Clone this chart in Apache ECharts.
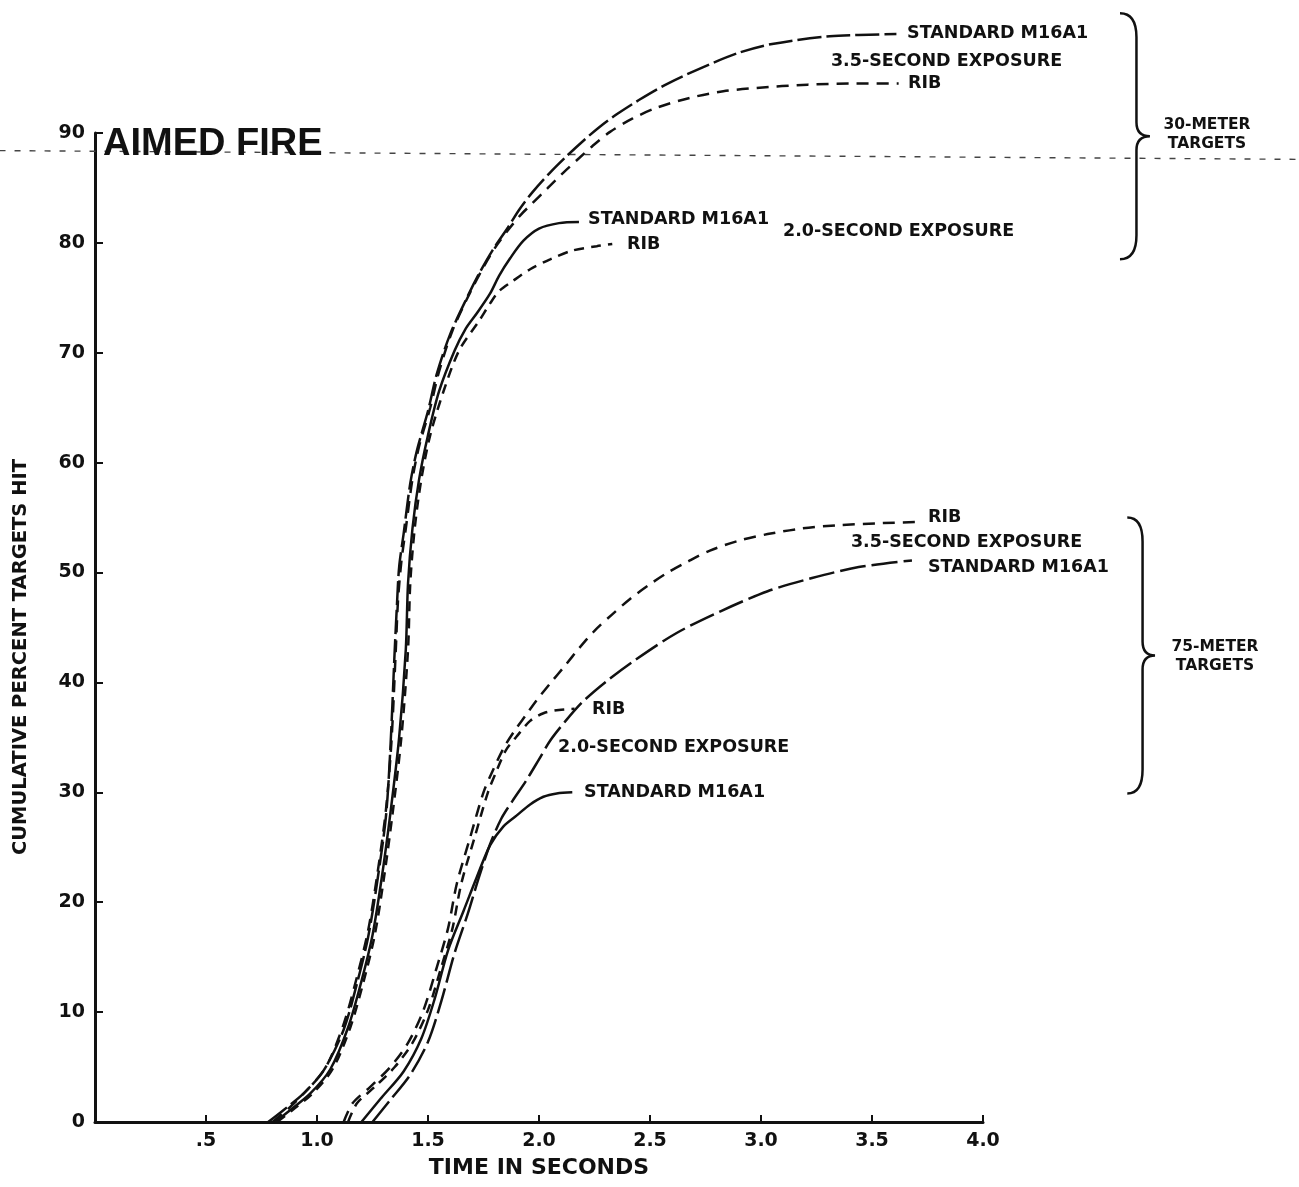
<!DOCTYPE html>
<html>
<head>
<meta charset="utf-8">
<script src="https://cdn.jsdelivr.net/npm/echarts@6/dist/echarts.min.js"></script>
<style>html,body{margin:0;padding:0;background:#fff;}#c{width:1299px;height:1187px;}</style>
</head>
<body>
<div id="c"></div>
<script>
// ---- tick labels ----
var xTicks = [0, 0.5, 1.0, 1.5, 2.0, 2.5, 3.0, 3.5, 4.0];
var yTicks = [0, 10, 20, 30, 40, 50, 60, 70, 80, 90];

// ---- 30-meter targets, 3.5-second exposure ----
var std30_35 = [[0.78,0],[0.85,1.1],[0.94,2.6],[1.03,4.7],[1.12,8.4],[1.18,12.6],[1.23,16.8],[1.27,21.7],[1.31,27.7],[1.33,33.8],[1.35,42.9],[1.36,47],[1.37,50.5],[1.39,53.5],[1.42,58.1],[1.45,61.1],[1.50,64.7],[1.54,68.1],[1.60,71.7],[1.68,75.2],[1.73,77.2],[1.79,79.3],[1.86,81.4],[1.91,83.0],[1.97,84.6],[2.05,86.4],[2.13,88.0],[2.20,89.3],[2.27,90.5],[2.35,91.7],[2.45,93.0],[2.58,94.5],[2.74,96.0],[2.90,97.3],[3.05,98.1],[3.31,98.8],[3.61,99.0]];
var rib30_35 = [[0.80,0],[0.87,1.2],[0.95,2.8],[1.04,5.0],[1.12,8.9],[1.18,13.2],[1.23,17.4],[1.27,22.3],[1.31,28.3],[1.335,34.5],[1.355,43],[1.365,47.5],[1.38,51],[1.40,54],[1.43,58.5],[1.46,61.5],[1.51,65],[1.55,68.3],[1.61,72],[1.69,75.5],[1.75,77.8],[1.81,79.8],[1.87,81.4],[1.92,82.6],[1.97,83.6],[2.04,85.0],[2.11,86.4],[2.18,87.7],[2.24,88.8],[2.32,90.1],[2.42,91.3],[2.53,92.3],[2.68,93.2],[2.83,93.8],[2.98,94.1],[3.21,94.4],[3.40,94.5],[3.62,94.5]];
// ---- 30-meter targets, 2.0-second exposure ----
var std30_20 = [[0.81,0],[0.88,1.1],[0.97,2.6],[1.06,4.8],[1.14,8.6],[1.20,12.8],[1.25,17],[1.29,22],[1.33,28],[1.37,35],[1.40,43],[1.41,49],[1.43,54],[1.46,58.5],[1.50,62.5],[1.55,66.5],[1.62,70.2],[1.67,72.2],[1.72,73.6],[1.78,75.4],[1.82,77.0],[1.87,78.6],[1.93,80.2],[2.00,81.3],[2.09,81.8],[2.18,81.9]];
var rib30_20 = [[0.82,0],[0.89,1.1],[0.98,2.6],[1.07,4.8],[1.15,8.6],[1.21,12.8],[1.26,17],[1.30,22],[1.34,28],[1.38,35],[1.41,43],[1.42,49],[1.44,54],[1.47,58.5],[1.51,62.5],[1.57,66.5],[1.64,70.2],[1.73,72.9],[1.78,74.5],[1.82,75.6],[1.88,76.5],[1.96,77.6],[2.05,78.5],[2.15,79.3],[2.26,79.7],[2.33,79.9]];
// ---- 75-meter targets, 3.5-second exposure ----
var rib75_35 = [[1.12,0],[1.16,1.7],[1.24,3.2],[1.33,5.0],[1.41,7.2],[1.48,10.2],[1.54,14.1],[1.59,17.6],[1.63,21.7],[1.69,25.9],[1.75,30.0],[1.79,31.9],[1.84,34.0],[1.89,35.6],[1.94,37.0],[1.99,38.4],[2.05,39.9],[2.12,41.6],[2.18,43.1],[2.25,44.7],[2.33,46.2],[2.41,47.6],[2.49,48.8],[2.58,50.0],[2.67,51.0],[2.77,52.0],[2.90,52.9],[3.03,53.5],[3.18,54.0],[3.34,54.3],[3.55,54.5],[3.71,54.6]];
var std75_35 = [[1.25,0],[1.33,2.0],[1.42,4.3],[1.50,7.3],[1.56,11.0],[1.62,15.4],[1.68,19.0],[1.73,22.3],[1.78,25.3],[1.83,27.6],[1.88,29.2],[1.94,31.0],[2.00,33.0],[2.05,34.7],[2.12,36.5],[2.20,38.3],[2.31,40.2],[2.43,42.0],[2.62,44.5],[2.82,46.5],[3.03,48.3],[3.23,49.5],[3.44,50.5],[3.68,51.1]];
// ---- 75-meter targets, 2.0-second exposure ----
var rib75_20 = [[1.14,0],[1.18,1.7],[1.26,3.2],[1.35,5.0],[1.43,7.2],[1.50,10.2],[1.56,14.1],[1.61,17.6],[1.65,21.7],[1.71,25.9],[1.77,30.0],[1.81,32.0],[1.85,33.8],[1.90,35.1],[1.96,36.5],[2.02,37.2],[2.09,37.5],[2.16,37.6]];
var std75_20 = [[1.20,0],[1.29,2.2],[1.39,4.6],[1.47,7.6],[1.53,11.2],[1.59,15.6],[1.66,19.2],[1.72,22.3],[1.78,25.2],[1.84,26.9],[1.90,27.9],[1.96,28.9],[2.02,29.6],[2.08,29.9],[2.15,30.0]];

// ---- curve annotations: x, y (left anchor), text ----
var annoX = [3.658, 3.315, 3.662, 2.221, 2.396, 3.099, 3.752, 3.405, 3.752, 2.239, 2.086, 2.203];
var annoY = [99.1, 96.5, 94.5, 82.1, 79.9, 81.0, 55.0, 52.7, 50.5, 37.5, 34.1, 30.0];
var annoText = ['STANDARD M16A1', '3.5-SECOND EXPOSURE', 'RIB', 'STANDARD M16A1', 'RIB', '2.0-SECOND EXPOSURE',
                'RIB', '3.5-SECOND EXPOSURE', 'STANDARD M16A1', 'RIB', '2.0-SECOND EXPOSURE', 'STANDARD M16A1'];

// ---- braces: left end x, tip x, top y, bottom y ----
var braceXLeft = [4.617, 4.65];
var braceXTip = [4.752, 4.775];
var braceYTop = [100.9, 55.0];
var braceYBottom = [78.5, 29.9];
var groupLabelX = [5.009, 5.045];
var groupLabelY = [89.9, 42.4];
var groupLabelText = ['30-METER\nTARGETS', '75-METER\nTARGETS'];

// scan line across the page (kept from the reference)
var scanLine = [[-0.43, 88.4, 5.42, 87.6]];

var FONT = 'DejaVu Sans';
var INK = '#111';

function curve(name, data, dash) {
  return {
    name: name, type: 'line', data: data, symbol: 'none', smooth: 0.3, clip: false,
    lineStyle: { color: INK, width: 2.5, type: dash, cap: 'butt' },
    z: 3, silent: true
  };
}

var chart = echarts.init(document.getElementById('c'), null, { renderer: 'canvas' });
var option = {
  animation: false,
  backgroundColor: '#fff',
  title: {
    text: 'AIMED FIRE', left: 98, top: 121,
    textStyle: { fontSize: 38, fontWeight: 'bold', fontFamily: 'Liberation Sans', color: INK }
  },
  grid: { left: 95, right: 316, top: 133, bottom: 65, containLabel: false },
  xAxis: {
    type: 'value', min: 0, max: 4, interval: 0.5,
    name: 'TIME IN SECONDS', nameLocation: 'middle', nameGap: 35,
    nameTextStyle: { fontSize: 22, fontWeight: 'bold', fontFamily: FONT, color: INK },
    axisLine: { show: true, lineStyle: { color: INK, width: 3 } },
    axisTick: { show: true, inside: true, length: 7, lineStyle: { color: INK, width: 2 } },
    axisLabel: {
      margin: 10, fontSize: 19, fontWeight: 'bold', fontFamily: FONT, color: INK,
      formatter: function (v) { if (v === 0) return ''; if (v === 0.5) return '.5'; return v.toFixed(1); }
    },
    splitLine: { show: false }
  },
  yAxis: {
    type: 'value', min: 0, max: 90, interval: 10,
    axisLine: { show: true, lineStyle: { color: INK, width: 3 } },
    axisTick: { show: true, inside: true, length: 8, lineStyle: { color: INK, width: 2 } },
    axisLabel: { margin: 10, fontSize: 19, fontWeight: 'bold', fontFamily: FONT, color: INK },
    splitLine: { show: false }
  },
  graphic: [{
    type: 'text', x: 21, y: 657, rotation: Math.PI / 2,
    style: {
      text: 'CUMULATIVE PERCENT TARGETS HIT', fill: INK,
      font: 'bold 19.5px "DejaVu Sans"', textAlign: 'center', textVerticalAlign: 'middle'
    }
  }],
  series: [
    {
      name: 'scan', type: 'custom', clip: false, silent: true, data: scanLine,
      encode: { x: [0, 2], y: [1, 3] },
      renderItem: function (params, api) {
        var a = api.coord([api.value(0), api.value(1)]);
        var b = api.coord([api.value(2), api.value(3)]);
        return {
          type: 'line', shape: { x1: a[0], y1: a[1], x2: b[0], y2: b[1] },
          style: { stroke: '#444', lineWidth: 1.4, lineDash: [6, 9] }
        };
      }, z: 1
    },
    curve('Standard M16A1 30m 3.5s', std30_35, [24, 5]),
    curve('RIB 30m 3.5s', rib30_35, [12, 8]),
    curve('Standard M16A1 30m 2.0s', std30_20, 'solid'),
    curve('RIB 30m 2.0s', rib30_20, [10, 7]),
    curve('RIB 75m 3.5s', rib75_35, [12, 8]),
    curve('Standard M16A1 75m 3.5s', std75_35, [26, 6]),
    curve('RIB 75m 2.0s', rib75_20, [10, 7]),
    curve('Standard M16A1 75m 2.0s', std75_20, 'solid'),
    {
      name: 'annotations', type: 'scatter', symbolSize: 0, clip: false, silent: true,
      itemStyle: { opacity: 1 },
      data: annoX.map(function (x, i) { return [x, annoY[i], annoText[i]]; }),
      label: {
        show: true, position: 'right', distance: 0, opacity: 1,
        formatter: function (p) { return p.data[2]; },
        fontSize: 17.5, fontWeight: 'bold', fontFamily: FONT, color: INK
      }, z: 4
    },
    {
      name: 'groups', type: 'scatter', symbolSize: 0, clip: false, silent: true,
      itemStyle: { opacity: 1 },
      data: groupLabelX.map(function (x, i) { return [x, groupLabelY[i], groupLabelText[i]]; }),
      label: {
        show: true, position: 'inside', align: 'center', verticalAlign: 'middle', opacity: 1,
        formatter: function (p) { return p.data[2]; }, lineHeight: 19,
        fontSize: 15.5, fontWeight: 'bold', fontFamily: FONT, color: INK
      }, z: 4
    },
    {
      name: 'braces', type: 'custom', clip: false, silent: true,
      data: braceXLeft.map(function (x, i) { return [x, braceXTip[i], braceYTop[i], braceYBottom[i]]; }),
      encode: { x: [0, 1], y: [2, 3] },
      renderItem: function (params, api) {
        var xl = api.value(0), xt = api.value(1), yt = api.value(2), yb = api.value(3);
        var top = api.coord([xl, yt]);
        var bot = api.coord([xl, yb]);
        var tip = api.coord([xt, (yt + yb) / 2]);
        var xs = top[0] + 0.55 * (tip[0] - top[0]);
        var r = 24, r2 = 14;
        var d = 'M' + top[0] + ' ' + top[1] +
          ' Q' + xs + ' ' + top[1] + ' ' + xs + ' ' + (top[1] + r) +
          ' L' + xs + ' ' + (tip[1] - r2) +
          ' Q' + xs + ' ' + tip[1] + ' ' + tip[0] + ' ' + tip[1] +
          ' Q' + xs + ' ' + tip[1] + ' ' + xs + ' ' + (tip[1] + r2) +
          ' L' + xs + ' ' + (bot[1] - r) +
          ' Q' + xs + ' ' + bot[1] + ' ' + bot[0] + ' ' + bot[1];
        return {
          type: 'path', shape: { pathData: d },
          style: { stroke: INK, fill: null, lineWidth: 2.5 }
        };
      }, z: 4
    }
  ]
};
chart.setOption(option);
</script>
</body>
</html>
